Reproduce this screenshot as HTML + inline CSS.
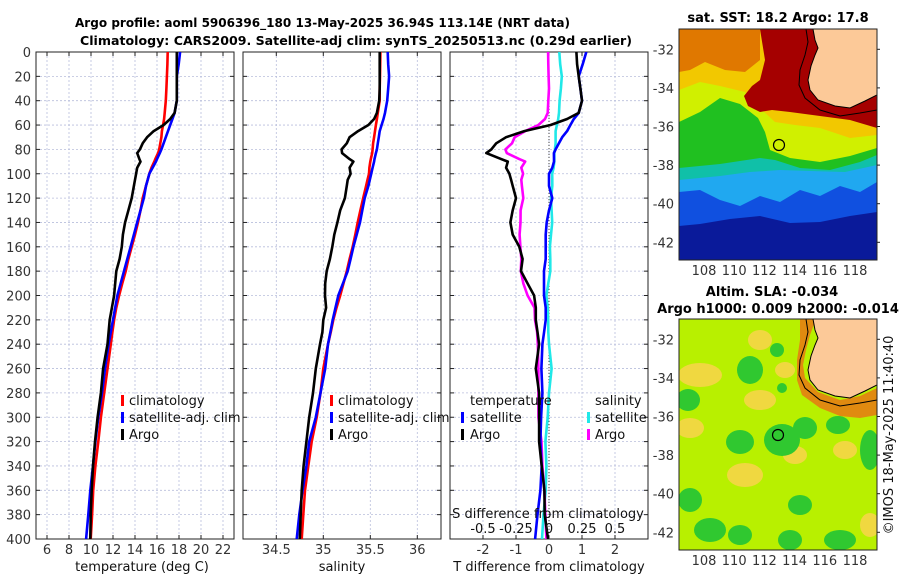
<!DOCTYPE html>
<html><head><meta charset="utf-8">
<style>
html,body{margin:0;padding:0;background:#fff;}
svg{display:block;font-family:"DejaVu Sans","Liberation Sans",sans-serif;}
.tk{font-size:13px;fill:#333;}
.ttl{font-size:13px;font-weight:bold;fill:#000;}
.lg{font-size:13px;fill:#111;}
</style></head><body>
<svg id="fig" width="900" height="580" viewBox="0 0 900 580">
<defs>
<clipPath id="c1"><rect x="36" y="52" width="198" height="487"/></clipPath>
<clipPath id="c2"><rect x="243" y="52" width="198" height="487"/></clipPath>
<clipPath id="c3"><rect x="450" y="52" width="198" height="487"/></clipPath>
<clipPath id="cm1"><rect x="679" y="29" width="198" height="231"/></clipPath>
<clipPath id="cm2"><rect x="679" y="319" width="198" height="231"/></clipPath>
</defs>
<text class="ttl" x="75" y="27" textLength="495" lengthAdjust="spacingAndGlyphs" style="font-size:12.2px">Argo profile: aoml 5906396_180 13-May-2025 36.94S 113.14E (NRT data)</text>
<text class="ttl" x="80" y="45" textLength="552" lengthAdjust="spacingAndGlyphs" style="font-size:12.6px">Climatology: CARS2009. Satellite-adj clim: synTS_20250513.nc (0.29d earlier)</text>
<g id="grids"></g>
<g id="series"></g>

<g>
<rect x="121" y="395" width="3" height="11" fill="#f00"/><text class="lg" x="129" y="405">climatology</text>
<rect x="121" y="412" width="3" height="11" fill="#00f"/><text class="lg" x="129" y="422">satellite-adj. clim</text>
<rect x="121" y="429" width="3" height="11" fill="#000"/><text class="lg" x="129" y="439">Argo</text>
</g>
<g>
<rect x="330" y="395" width="3" height="11" fill="#f00"/><text class="lg" x="338" y="405">climatology</text>
<rect x="330" y="412" width="3" height="11" fill="#00f"/><text class="lg" x="338" y="422">satellite-adj. clim</text>
<rect x="330" y="429" width="3" height="11" fill="#000"/><text class="lg" x="338" y="439">Argo</text>
</g>
<g>
<text class="lg" x="470" y="405">temperature</text>
<rect x="461" y="412" width="3" height="11" fill="#00f"/><text class="lg" x="470" y="422">satellite</text>
<rect x="461" y="429" width="3" height="11" fill="#000"/><text class="lg" x="470" y="439">Argo</text>
<text class="lg" x="595" y="405">salinity</text>
<rect x="587" y="412" width="3" height="11" fill="#20e8e8"/><text class="lg" x="595" y="422">satellite</text>
<rect x="587" y="429" width="3" height="11" fill="#f0f"/><text class="lg" x="595" y="439">Argo</text>
</g>
<text class="lg" x="548" y="518" text-anchor="middle">S difference from climatology</text>
<g id="sdticks"></g>
<text class="lg" x="142" y="571" text-anchor="middle" fill="#333">temperature (deg C)</text>
<text class="lg" x="342" y="571" text-anchor="middle">salinity</text>
<text class="lg" x="549" y="571" text-anchor="middle">T difference from climatology</text>

<text class="ttl" x="778" y="22" text-anchor="middle">sat. SST: 18.2 Argo: 17.8</text>
<g clip-path="url(#cm1)">
<rect x="679" y="29" width="198" height="231" fill="#0a1a9a"/>
<polygon fill="#1050e0" points="679,29 877,29 877,212 850,216 820,222 790,223 760,216 730,219 700,224 679,226"/>
<polygon fill="#20a8f0" points="679,29 877,29 877,182 860,192 840,186 820,196 800,190 780,202 760,196 740,206 720,200 700,190 679,192"/>
<polygon fill="#10c0a8" points="679,29 877,29 877,165 845,172 810,171 780,170 750,172 720,176 679,180"/>
<polygon fill="#20c020" points="679,29 877,29 877,155 860,162 830,170 800,168 775,160 760,158 720,164 679,168"/>
<polygon fill="#d0f000" points="679,29 877,29 877,148 850,156 820,162 790,158 770,150 765,132 758,118 740,104 720,98 700,112 679,122"/>
<polygon fill="#f2c800" points="679,29 877,29 877,135 850,138 820,128 795,125 775,122 760,108 745,92 720,86 700,82 679,90"/>
<polygon fill="#e07800" points="679,29 760,29 760,60 745,72 725,70 705,62 690,70 679,72"/>
<polygon fill="#a50000" points="760,29 877,29 877,128 850,120 820,116 790,112 772,110 760,112 748,106 744,96 752,86 760,80 765,60"/>
<polygon fill="#fcc998" stroke="#000" stroke-width="1" points="813,29 815,40 818,48 815,55 811,66 808,80 810,90 818,100 835,106 850,108 865,101 877,95 877,29"/>
<polyline fill="none" stroke="#000" stroke-width="1" points="806,29 808,42 805,55 800,70 799,85 805,98 820,110 840,116 860,113 877,110"/>
<circle cx="779" cy="145" r="5.5" fill="none" stroke="#000" stroke-width="1.2"/>
</g>
<rect x="679" y="29" width="198" height="231" fill="none" stroke="#222" stroke-width="1"/>
<g id="m1ticks"></g>

<text class="ttl" x="772" y="296" text-anchor="middle">Altim. SLA: -0.034</text>
<text class="ttl" x="778" y="313" text-anchor="middle">Argo h1000: 0.009 h2000: -0.014</text>
<g clip-path="url(#cm2)">
<rect x="679" y="319" width="198" height="231" fill="#b8f000"/>
<g fill="#f0d840">
<ellipse cx="700" cy="375" rx="22" ry="12"/><ellipse cx="760" cy="400" rx="16" ry="10"/><ellipse cx="690" cy="428" rx="14" ry="10"/>
<ellipse cx="745" cy="475" rx="18" ry="12"/><ellipse cx="795" cy="455" rx="12" ry="9"/><ellipse cx="845" cy="450" rx="12" ry="9"/>
<ellipse cx="760" cy="340" rx="12" ry="10"/><ellipse cx="785" cy="370" rx="10" ry="8"/><ellipse cx="870" cy="525" rx="10" ry="12"/>
</g>
<g fill="#30c830">
<ellipse cx="750" cy="370" rx="13" ry="14"/><ellipse cx="777" cy="350" rx="7" ry="7"/><ellipse cx="782" cy="388" rx="5" ry="5"/>
<ellipse cx="688" cy="400" rx="12" ry="11"/><ellipse cx="782" cy="440" rx="18" ry="16"/><ellipse cx="740" cy="442" rx="14" ry="12"/>
<ellipse cx="805" cy="428" rx="12" ry="11"/><ellipse cx="838" cy="425" rx="12" ry="9"/><ellipse cx="870" cy="450" rx="10" ry="20"/>
<ellipse cx="690" cy="500" rx="12" ry="12"/><ellipse cx="710" cy="530" rx="16" ry="12"/><ellipse cx="740" cy="535" rx="12" ry="10"/>
<ellipse cx="790" cy="540" rx="12" ry="10"/><ellipse cx="800" cy="505" rx="12" ry="10"/><ellipse cx="840" cy="540" rx="16" ry="10"/>
</g>
<polygon fill="#e08a10" points="800,319 816,319 810,335 806,350 803,365 805,378 818,392 840,400 860,396 877,388 877,415 860,418 840,416 820,408 802,395 797,380 797,360 800,340"/>
<polygon fill="#fcc998" stroke="#000" stroke-width="1" points="813,319 815,330 818,338 815,345 811,356 808,370 810,380 818,390 835,396 850,398 865,391 877,385 877,319"/>
<polyline fill="none" stroke="#000" stroke-width="1" points="806,319 808,332 805,345 800,360 799,375 805,388 820,400 840,406 860,403 877,400"/>
<circle cx="778" cy="435" r="5.5" fill="none" stroke="#000" stroke-width="1.2"/>
</g>
<rect x="679" y="319" width="198" height="231" fill="none" stroke="#222" stroke-width="1"/>
<g id="m2ticks"></g>
<text class="lg" transform="translate(893,435) rotate(-90)" text-anchor="middle">©IMOS 18-May-2025 11:40:40</text>
</svg>
<script>
const depths=[0,10,20,30,40,50,55,60,65,70,75,80,83,88,90,95,100,105,110,120,130,140,150,160,170,180,190,200,210,220,230,240,260,280,300,320,340,360,380,400];
const tempClim=[16.97,16.95,16.9,16.85,16.8,16.7,16.65,16.55,16.45,16.4,16.3,16.2,16.1,15.85,15.75,15.5,15.3,15.15,15.0,14.7,14.5,14.27,14.0,13.7,13.4,13.15,12.85,12.55,12.3,12.1,11.95,11.8,11.5,11.2,10.9,10.66,10.4,10.2,10.1,9.97];
const tempSat=[18.1,17.97,17.8,17.8,17.8,17.6,17.4,17.2,17.0,16.8,16.6,16.4,16.25,16.0,15.9,15.6,15.3,15.15,15.0,14.8,14.5,14.2,13.9,13.6,13.3,13.0,12.7,12.4,12.2,12.0,11.8,11.6,11.27,11.0,10.66,10.4,10.18,9.94,9.75,9.55];
const tempArgo=[17.8,17.8,17.8,17.8,17.8,17.6,17.2,16.6,15.7,15.1,14.7,14.45,14.2,14.4,14.5,14.2,14.1,14.0,13.9,13.7,13.4,13.1,12.9,12.8,12.6,12.3,12.2,12.1,11.9,11.7,11.6,11.5,11.1,10.9,10.6,10.36,10.18,10.06,9.97,9.94];
const salClim=[35.607,35.605,35.603,35.6,35.6,35.58,35.57,35.56,35.55,35.54,35.53,35.525,35.52,35.505,35.5,35.49,35.486,35.47,35.455,35.425,35.395,35.366,35.34,35.313,35.28,35.25,35.215,35.18,35.14,35.106,35.08,35.05,35.0,34.97,34.93,34.877,34.84,34.805,34.787,34.77];
const salSat=[35.685,35.69,35.7,35.69,35.68,35.656,35.64,35.62,35.6,35.59,35.58,35.57,35.56,35.545,35.54,35.525,35.51,35.495,35.48,35.44,35.415,35.39,35.355,35.32,35.29,35.26,35.21,35.16,35.13,35.1,35.075,35.05,35.02,34.97,34.92,34.85,34.82,34.78,34.745,34.717];
const salArgo=[35.6,35.6,35.6,35.6,35.595,35.57,35.54,35.48,35.37,35.28,35.25,35.195,35.2,35.28,35.32,35.28,35.29,35.26,35.25,35.23,35.18,35.15,35.117,35.096,35.07,35.036,35.02,35.018,35.03,35.0,34.99,34.965,34.92,34.89,34.85,34.82,34.79,34.77,34.76,34.75];
const depthTicks=[0,20,40,60,80,100,120,140,160,180,200,220,240,260,280,300,320,340,360,380,400];
const tempTicks=[6,8,10,12,14,16,18,20,22];
const salTicks=[34.5,35,35.5,36];
const tDiffTicks=[-2,-1,0,1,2];
const sDiffTicks=[-0.5,-0.25,0,0.25,0.5];
const sDiffLabels=["-0.5","-0.25","0","0.25","0.5"];
const latTicks=[-32,-34,-36,-38,-40,-42];
const lonTicks=[108,110,112,114,116,118];

const NS='http://www.w3.org/2000/svg';
const yD=d=>52+d/400*487;
const xT=t=>36+(t-5)*11;
const xS=s=>276.3+(s-34.5)*94;
const xDT=v=>549+v*33;
const xDS=v=>549+v*132;
const latY=(la,top)=>top+20.3+(-32-la)*19.3;
const lonX=lo=>704+(lo-108)*15.1;

function mk(tag,attrs,parent){const e=document.createElementNS(NS,tag);for(const k in attrs)e.setAttribute(k,attrs[k]);parent.appendChild(e);return e;}
const grids=document.getElementById('grids');
const series=document.getElementById('series');
const panels=[{x0:36,ticks:tempTicks,f:xT,labels:tempTicks.map(String),name:'temperature'},
{x0:243,ticks:salTicks,f:xS,labels:salTicks.map(String),name:'salinity'},
{x0:450,ticks:tDiffTicks,f:xDT,labels:tDiffTicks.map(String),name:'difference'}];
panels.forEach((p,pi)=>{
  depthTicks.forEach(d=>{
    const y=yD(d);
    const l=mk('line',{x1:p.x0,x2:p.x0+198,y1:y,y2:y,stroke:'#b8bedc','stroke-width':0.8,'stroke-dasharray':'2,2'},grids);
    
    
    mk('line',{x1:p.x0,x2:p.x0+4,y1:y,y2:y,stroke:'#222'},grids);
    mk('line',{x1:p.x0+194,x2:p.x0+198,y1:y,y2:y,stroke:'#222'},grids);
  });
  p.ticks.forEach((t,i)=>{
    const x=p.f(t);
    const l=mk('line',{x1:x,x2:x,y1:52,y2:539,stroke:'#b8bedc','stroke-width':0.8,'stroke-dasharray':'2,2'},grids);
    
    
    mk('line',{x1:x,x2:x,y1:535,y2:539,stroke:'#222'},grids);
    mk('line',{x1:x,x2:x,y1:52,y2:56,stroke:'#222'},grids);
    const tx=mk('text',{x:x,y:554,'text-anchor':'middle',class:'tk'},grids);
    tx.textContent=p.labels[i];
    
    
  });
  const fr=mk('rect',{x:p.x0,y:52,width:198,height:487,fill:'none',stroke:'#222','stroke-width':1},grids);
  
  
});
depthTicks.forEach(d=>{
  const t=mk('text',{x:31,y:yD(d)+5,'text-anchor':'end',class:'tk'},grids);
  t.textContent=String(d);
  
  
});
const sdt=document.getElementById('sdticks');
sDiffTicks.forEach((v,i)=>{
  const t=mk('text',{x:xDS(v),y:533,'text-anchor':'middle',class:'lg'},sdt);
  t.textContent=sDiffLabels[i];
  
  
});
const z=mk('line',{x1:xDT(0),x2:xDT(0),y1:52,y2:539,stroke:'#444','stroke-width':1,'stroke-dasharray':'1,2'},grids);



function line(vals,fx,color,clip,name){
  const pts=vals.map((v,i)=>fx(v).toFixed(1)+','+yD(depths[i]).toFixed(1)).join(' ');
  const pl=mk('polyline',{points:pts,fill:'none',stroke:color,'stroke-width':2.6,'stroke-linejoin':'round','clip-path':'url(#'+clip+')'},series);
  
  
}
line(tempClim,xT,'#ff0000','c1','temperature-climatology-line');
line(tempSat,xT,'#0000ff','c1','temperature-satellite-line');
line(tempArgo,xT,'#000000','c1','temperature-argo-line');
line(salClim,xS,'#ff0000','c2','salinity-climatology-line');
line(salSat,xS,'#0000ff','c2','salinity-satellite-line');
line(salArgo,xS,'#000000','c2','salinity-argo-line');
line(salSat.map((v,i)=>v-salClim[i]),xDS,'#20e8e8','c3','salinity-satellite-difference-line');
line(salArgo.map((v,i)=>v-salClim[i]),xDS,'#ff00ff','c3','salinity-argo-difference-line');
line(tempSat.map((v,i)=>v-tempClim[i]),xDT,'#0000ff','c3','temperature-satellite-difference-line');
line(tempArgo.map((v,i)=>v-tempClim[i]),xDT,'#000000','c3','temperature-argo-difference-line');

[['m1ticks',29,275],['m2ticks',319,565]].forEach(([id,top,ly])=>{
  const g=document.getElementById(id);
  latTicks.forEach(la=>{
    const y=latY(la,top);
    const t=mk('text',{x:674,y:y+5,'text-anchor':'end',class:'tk'},g);
    t.textContent=String(la);
    
    
    mk('line',{x1:877,x2:880,y1:y,y2:y,stroke:'#222'},g);
  });
  lonTicks.forEach(lo=>{
    const x=lonX(lo);
    const t=mk('text',{x:x,y:ly,'text-anchor':'middle',class:'tk'},g);
    t.textContent=String(lo);
    
    
  });
});
</script>
</body></html>
